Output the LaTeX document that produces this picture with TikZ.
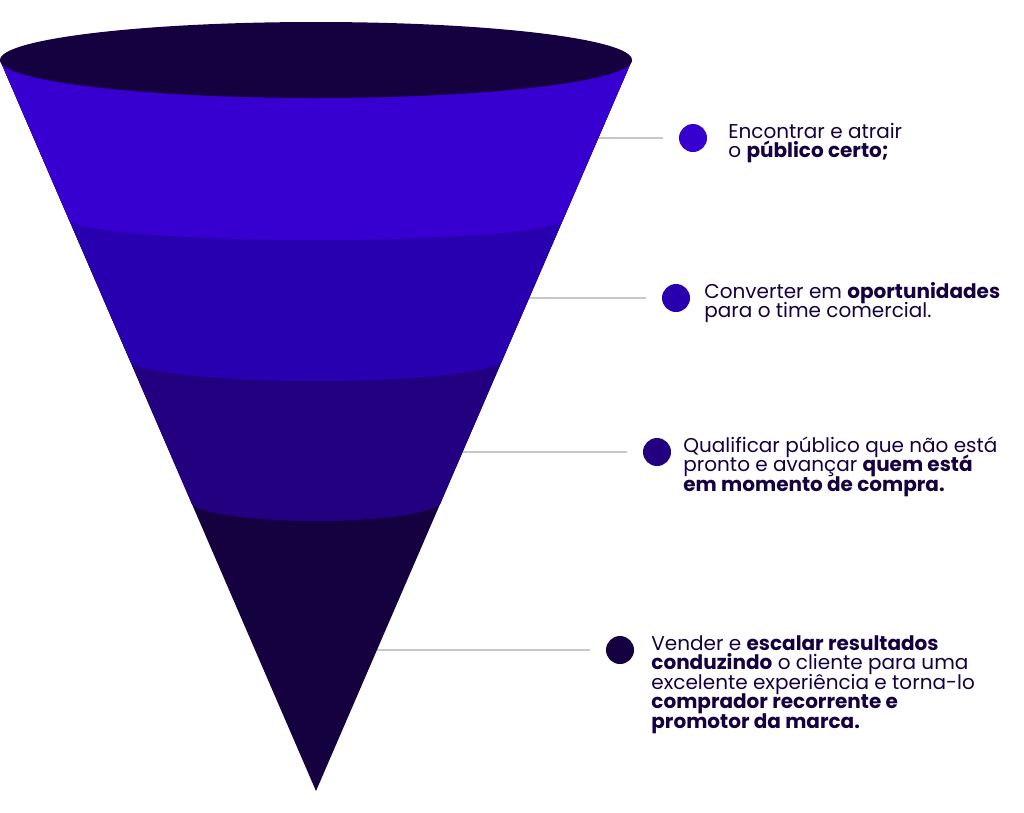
\documentclass[tikz,border=0pt]{standalone}
\usepackage{fontspec}
\setmainfont{Poppins}
\usetikzlibrary{positioning,calc}

\definecolor{bandA}{HTML}{3700D0}
\definecolor{bandB}{HTML}{2800B0}
\definecolor{bandC}{HTML}{22007F}
\definecolor{bandD}{HTML}{150040}
\definecolor{guidegray}{HTML}{C8C8C8}

% lines of a stage text, first baseline on the node's base
\newcommand{\stagelines}[1]{\vtop{\lineskiplimit=-\maxdimen\let\\=\cr
  \halign{##\hfil\cr#1\crcr}}}

\tikzset{
  dot/.style={circle, minimum size=28pt, inner sep=0pt},
  stagetext/.style={inner sep=0pt, text=bandD,
    font=\fontsize{20}{19.5}\selectfont},
  guideline/.style={draw=guidegray, line width=1.5pt, shorten >=16pt},
}

\begin{document}
\begin{tikzpicture}[x=1pt,y=-1pt]
	\useasboundingbox (0,0) rectangle (1024,812);
	
	\node[dot, fill=bandA] (d1) at (693,138) {};
	\node[dot, fill=bandB] (d2) at (676,298) {};
	\node[dot, fill=bandC] (d3) at (657,452) {};
	\node[dot, fill=bandD] (d4) at (620,650) {};
	
	\node[stagetext, right=21pt of d1.east, anchor=base west] (t1)
		{\stagelines{Encontrar e atrair\\o \textbf{público certo;}}};
	\node[stagetext, right=14pt of d2.east, anchor=base west] (t2)
		{\stagelines{Converter em \textbf{oportunidades}\\para o time comercial.}};
	\node[stagetext, right=12pt of d3.east, anchor=base west] (t3)
		{\stagelines{Qualificar público que não está\\pronto e avançar \textbf{quem está}\\\textbf{em momento de compra.}}};
	\node[stagetext, right=17pt of d4.east, anchor=base west] (t4)
		{\stagelines{Vender e \textbf{escalar resultados}\\\textbf{conduzindo} o cliente para uma\\excelente experiência e torna-lo\\\textbf{comprador recorrente e}\\\textbf{promotor da marca.}}};
	
	\coordinate (tl) at (0,60);
	\coordinate (tr) at (632,60);
	\coordinate (apex) at (316,791);
	
	\draw[guideline] (d1 -| apex) -- (d1.west);
	\draw[guideline] (d2 -| apex) -- (d2.west);
	\draw[guideline] (d3 -| apex) -- (d3.west);
	\draw[guideline] (d4 -| apex) -- (d4.west);
	
	% funnel, painted from the tip upwards
	\fill[bandD] (tl) -- (apex) -- (tr) -- cycle;
	\fill[bandC] (tl) -- ($(tl)!0.6033!(apex)$)
		arc[start angle=180, end angle=360, x radius=125.4pt, y radius=20pt] -- (tr) -- cycle;
	\fill[bandB] (tl) -- ($(tl)!0.4104!(apex)$)
		arc[start angle=180, end angle=360, x radius=186.3pt, y radius=21pt] -- (tr) -- cycle;
	\fill[bandA] (tl) -- ($(tl)!0.2175!(apex)$)
		arc[start angle=180, end angle=360, x radius=247.3pt, y radius=21pt] -- (tr) -- cycle;
	\fill[bandD] (316,60) ellipse[x radius=316pt, y radius=38pt];
\end{tikzpicture}
\end{document}
